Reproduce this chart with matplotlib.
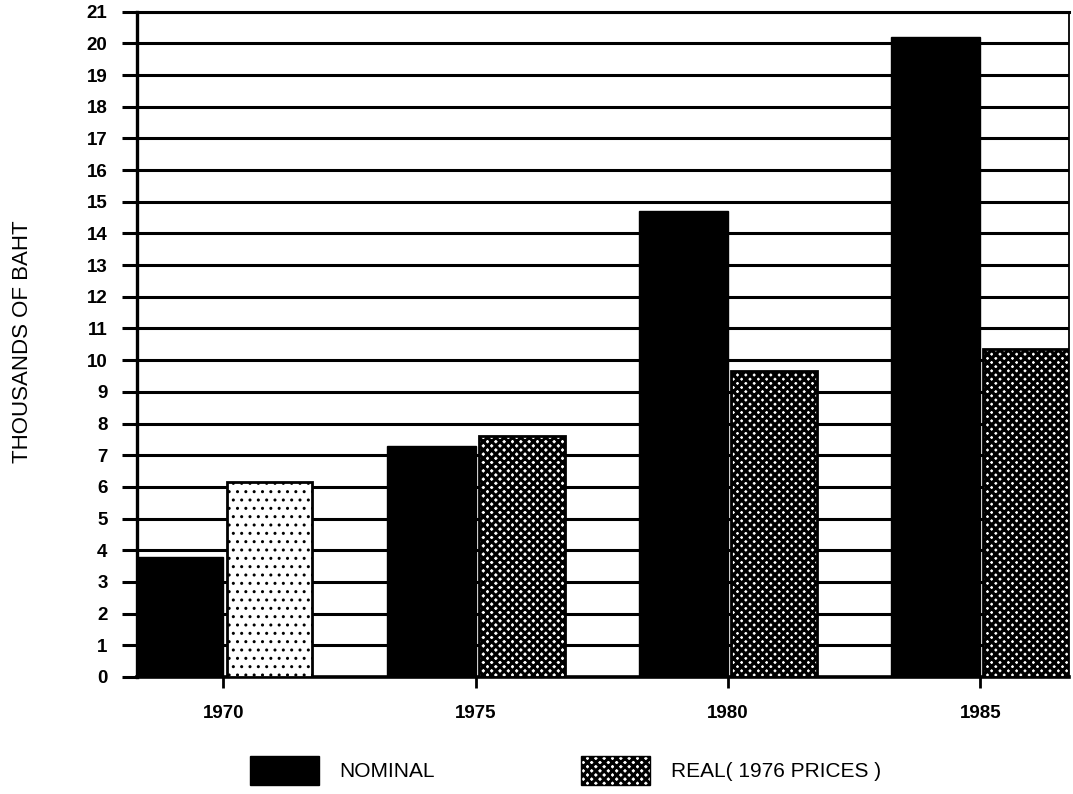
import matplotlib
matplotlib.use("Agg")
import matplotlib.pyplot as plt
from matplotlib.patches import Patch

# Household income, thousands of baht
years = [1970, 1975, 1980, 1985]
nominal = [3.8, 7.3, 14.7, 20.2]
real_1976 = [6.15, 7.6, 9.65, 10.35]
y_ticks = list(range(0, 22))

plt.rcParams["font.family"] = ["Liberation Sans", "DejaVu Sans"]

fig = plt.figure(figsize=(10.73, 7.94), dpi=100)
ax = fig.add_axes([0.1274, 0.1474, 0.8689, 0.8379])

# Horizontal rules behind the bars
for v in y_ticks:
    ax.axhline(v, color="black", lw=2.2, zorder=1)

nom_w = 1.76
real_w = 1.70
ax.bar([y - nom_w / 2 for y in years], nominal, width=nom_w,
       color="black", edgecolor="black", lw=1.0, zorder=3)

# stipple weight per bar: light for 1970, heavy afterwards
real_hatches = [("..", 1.0), ("xxxx", 2.2), ("xxxx", 2.4), ("xxxx", 2.4)]
for y, v, (h, hw) in zip(years, real_1976, real_hatches):
    plt.rcParams["hatch.linewidth"] = hw
    ax.bar(y + 0.06 + real_w / 2, v, width=real_w, facecolor="white",
           edgecolor="black", hatch=h, lw=2.0, zorder=3)

ax.set_xlim(1968.28, 1986.76)
ax.set_ylim(0, 21)

ax.set_yticks(y_ticks)
ax.set_yticklabels([str(v) for v in y_ticks], fontsize=13.5, fontweight="bold")
ax.tick_params(axis="y", length=11, width=2.2, pad=10, direction="out")

ax.set_xticks(years)
ax.set_xticklabels([str(y) for y in years], fontsize=13.5, fontweight="bold")
ax.tick_params(axis="x", length=8, width=2.0, pad=12, direction="out")

for side, lw in [("left", 2.4), ("bottom", 2.6), ("top", 2.2), ("right", 1.3)]:
    ax.spines[side].set_linewidth(lw)
    ax.spines[side].set_color("black")

fig.text(0.021, 0.57, "THOUSANDS OF BAHT", rotation=90, fontsize=16,
         ha="center", va="center")

plt.rcParams["hatch.linewidth"] = 2.2
handles = [
    Patch(facecolor="black", edgecolor="black", label="NOMINAL"),
    Patch(facecolor="white", edgecolor="black", hatch="xxxx",
          label="REAL( 1976 PRICES )"),
]
fig.legend(handles=handles, loc="center", bbox_to_anchor=(0.527, 0.030),
           ncol=2, frameon=False, fontsize=15, handlelength=3.3,
           handleheight=1.75, handletextpad=1.0, columnspacing=7.0)

fig.savefig("out.png", dpi=100, facecolor="white")
